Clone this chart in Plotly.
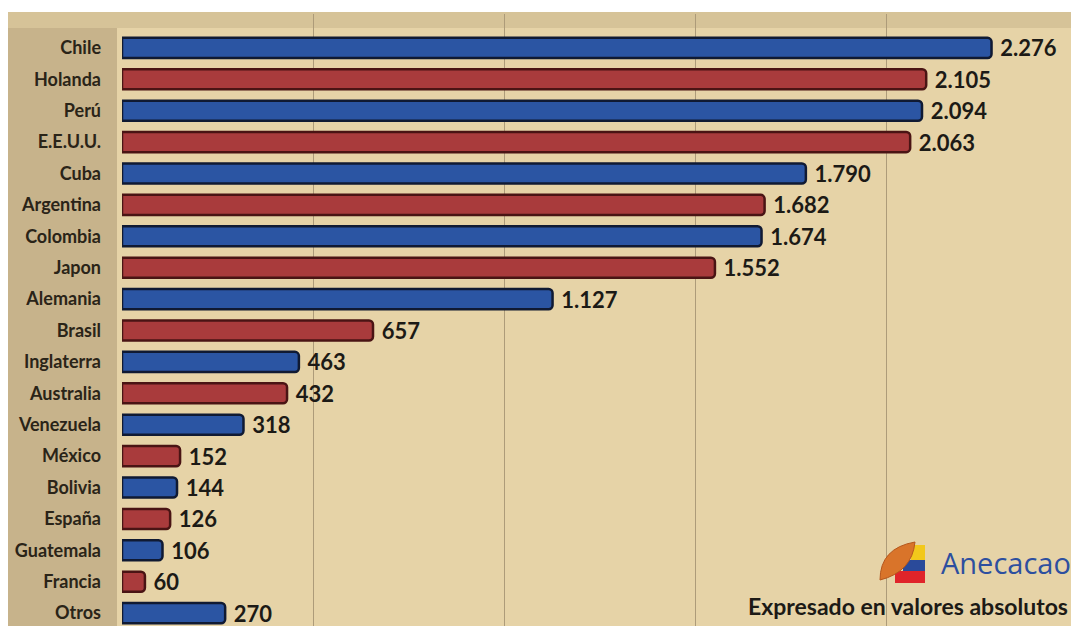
import plotly.graph_objects as go

countries = ["Chile", "Holanda", "Perú", "E.E.U.U.", "Cuba", "Argentina", "Colombia", "Japon",
             "Alemania", "Brasil", "Inglaterra", "Australia", "Venezuela", "México", "Bolivia",
             "España", "Guatemala", "Francia", "Otros"]
values = [2276, 2105, 2094, 2063, 1790, 1682, 1674, 1552, 1127, 657, 463, 432, 318, 152, 144,
          126, 106, 60, 270]

W, H = 1071, 626
L, R, T, B = 122, 0, 14, 0
PW, PH = W - L - R, H - T - B


def px(x):
    return (x - L) / PW


def py(y):
    return 1 - (y - T) / PH


BLUE, RED = "#2b55a3", "#a93b3c"
BLUE_EDGE, RED_EDGE = "#101a33", "#4a1414"
fills = [BLUE if i % 2 == 0 else RED for i in range(len(countries))]
edges = [BLUE_EDGE if i % 2 == 0 else RED_EDGE for i in range(len(countries))]

fig = go.Figure(go.Bar(
    x=values, y=countries, orientation="h",
    marker=dict(color=fills, line=dict(color=edges, width=2.5), cornerradius=4),
    texttemplate="\u00a0<b>%{x:,}</b>", textposition="outside", cliponaxis=False,
    constraintext="none",
    textfont=dict(family="Lato", size=22, color="#1c1a16"),
    hoverinfo="skip",
))

shapes = [
    # parchment backgrounds
    dict(type="rect", xref="paper", yref="paper", x0=px(8), x1=px(W), y0=py(H), y1=py(12),
         fillcolor="#e6d3a7", line=dict(width=0), layer="below"),
    dict(type="rect", xref="paper", yref="paper", x0=px(8), x1=px(117), y0=py(H), y1=py(12),
         fillcolor="#c7b38b", line=dict(width=0), layer="below"),
    dict(type="rect", xref="paper", yref="paper", x0=px(8), x1=px(W), y0=py(28), y1=py(12),
         fillcolor="#d6c398", line=dict(width=0), layer="below"),
    # logo: flag stripes
    dict(type="rect", xref="paper", yref="paper", x0=px(911), x1=px(925), y0=py(560), y1=py(545),
         fillcolor="#f2c81b", line=dict(width=0)),
    dict(type="rect", xref="paper", yref="paper", x0=px(903), x1=px(925), y0=py(571), y1=py(560),
         fillcolor="#2a4a9a", line=dict(width=0)),
    dict(type="rect", xref="paper", yref="paper", x0=px(895), x1=px(925), y0=py(583), y1=py(571),
         fillcolor="#e0242a", line=dict(width=0)),
    # cacao pod
    dict(type="path", xref="paper", yref="paper",
         path=f"M {px(880)},{py(580)} Q {px(880)},{py(548)} {px(915)},{py(542)} "
              f"Q {px(912)},{py(572)} {px(880)},{py(580)} Z",
         fillcolor="#d9742a", line=dict(color="#b5561c", width=1)),
]

annotations = [
    dict(text="Anecacao", xref="paper", yref="paper", x=px(1073), y=py(562),
         xanchor="right", yanchor="middle", showarrow=False,
         font=dict(family="Open Sans", size=29, color="#2d4f9f")),
    dict(text="<b>Expresado en valores absolutos</b>", xref="paper", yref="paper",
         x=px(1070), y=py(606), xanchor="right", yanchor="middle", showarrow=False,
         font=dict(family="Lato", size=23, color="#1c1a16")),
]

fig.update_layout(
    width=W, height=H,
    margin=dict(l=L, r=R, t=T, b=B),
    paper_bgcolor="white", plot_bgcolor="rgba(0,0,0,0)",
    separators=",.",
    bargap=0.36,
    showlegend=False,
    shapes=shapes, annotations=annotations,
    xaxis=dict(range=[0, 2484], dtick=500, showticklabels=False, showgrid=True,
               gridcolor="#ad9b79", gridwidth=1, zeroline=False, showline=False, ticks=""),
    yaxis=dict(range=[18.41, -1.08], tickfont=dict(family="Lato", size=18, color="#2a2418"),
               ticklabelstandoff=20, showgrid=False, ticks="", showline=False),
)
fig.update_yaxes(tickprefix="<b>", ticksuffix="</b>")

fig.write_html("out.html", config={"displayModeBar": False},
               post_script="document.body.style.margin='0';document.body.style.overflow='hidden';")
